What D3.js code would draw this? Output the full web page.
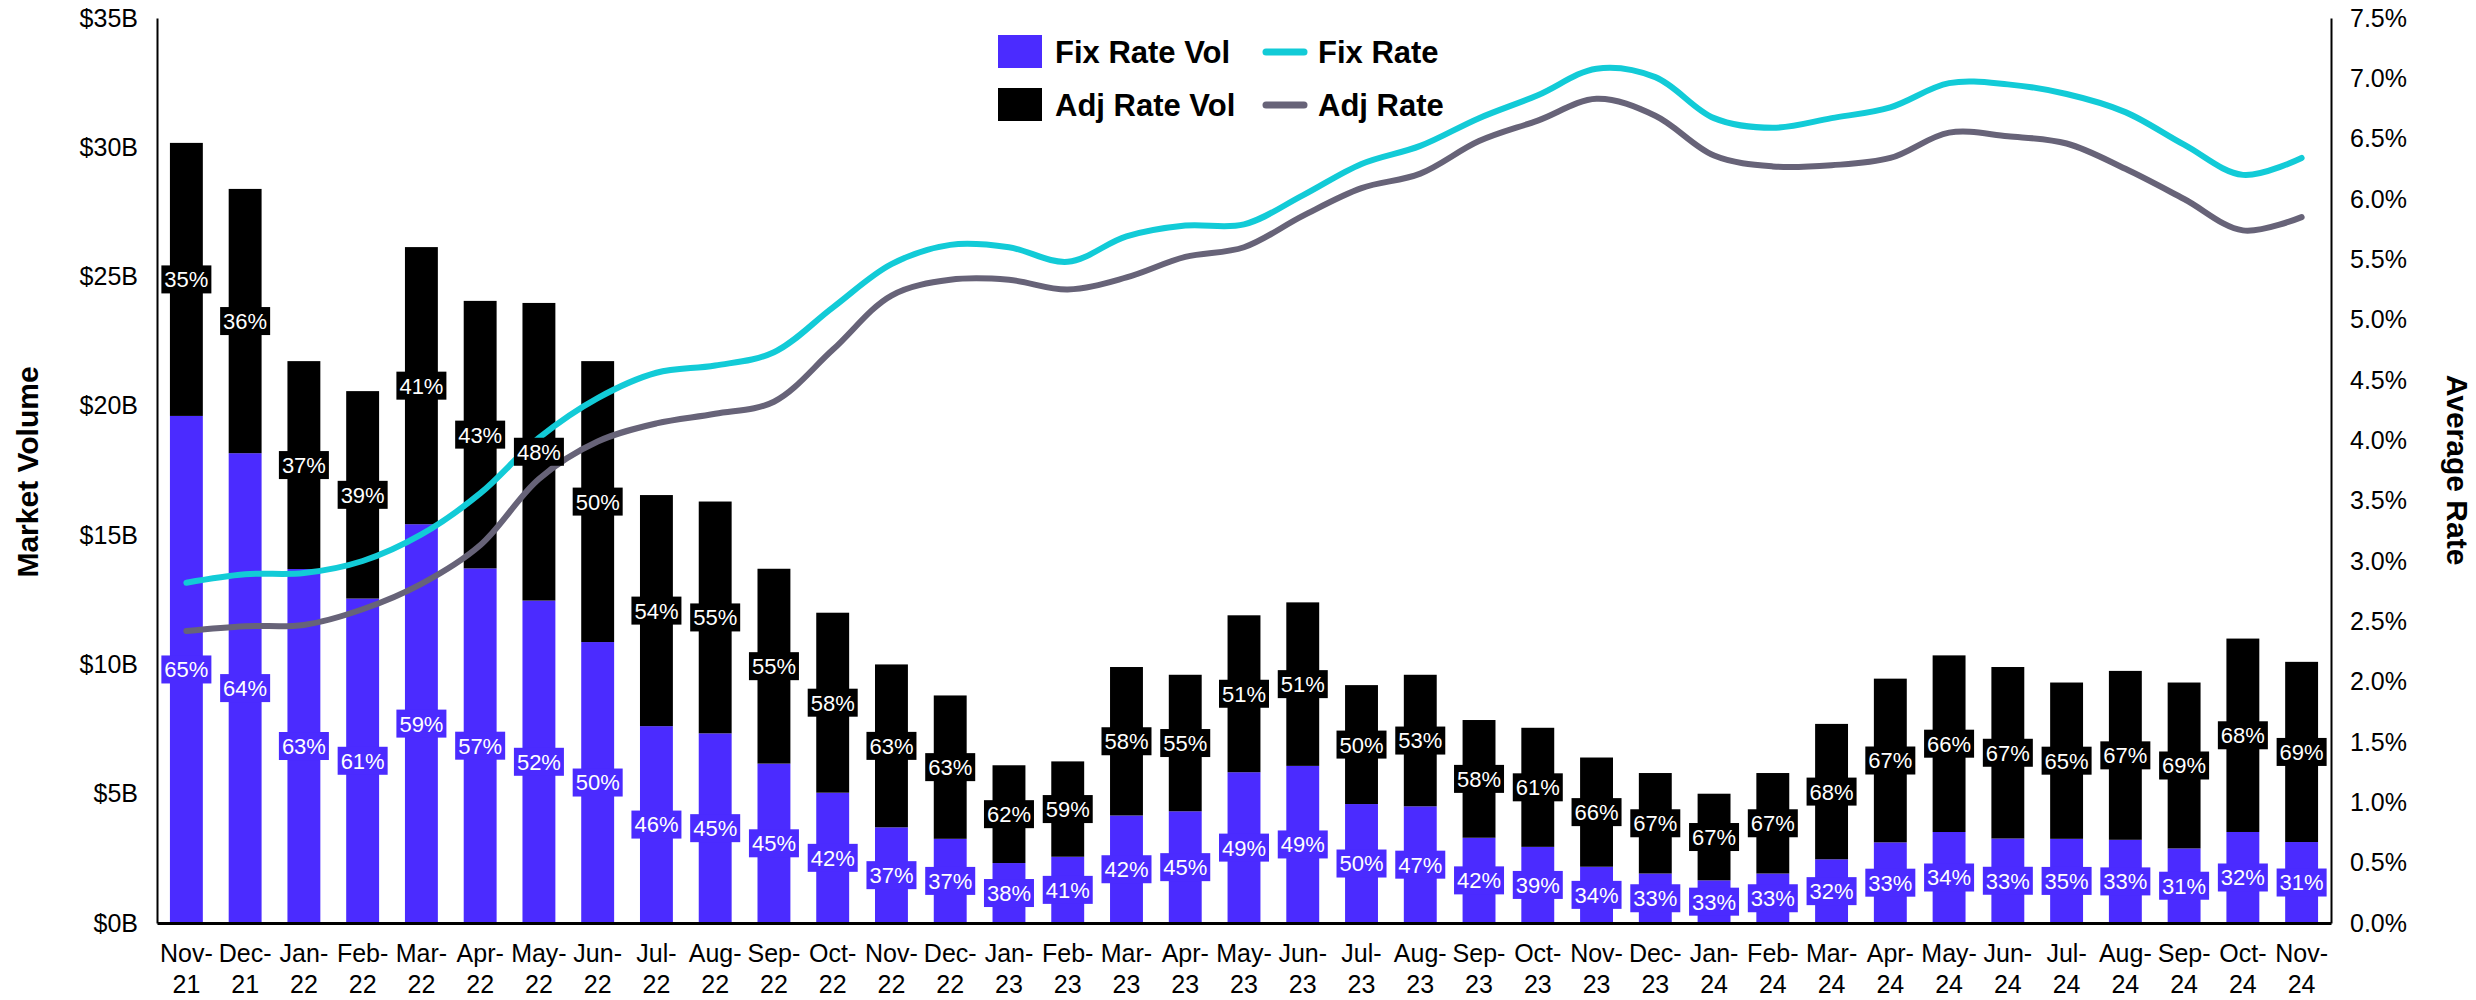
<!DOCTYPE html>
<html>
<head>
<meta charset="utf-8">
<script src="https://cdn.jsdelivr.net/npm/d3@7/dist/d3.min.js"></script>
<style>
  html, body { margin: 0; padding: 0; background: #ffffff; }
  svg { display: block; }
  text { font-family: "Liberation Sans", Arial, Helvetica, sans-serif; }
</style>
</head>
<body>
<svg id="chart" width="2476" height="1000"></svg>
<script>
// Monthly market volume ($B) and fixed-rate share (%), Nov-21 .. Nov-24
const months = ["Nov-21","Dec-21","Jan-22","Feb-22","Mar-22","Apr-22","May-22","Jun-22","Jul-22","Aug-22","Sep-22","Oct-22",
  "Nov-22","Dec-22","Jan-23","Feb-23","Mar-23","Apr-23","May-23","Jun-23","Jul-23","Aug-23","Sep-23","Oct-23",
  "Nov-23","Dec-23","Jan-24","Feb-24","Mar-24","Apr-24","May-24","Jun-24","Jul-24","Aug-24","Sep-24","Oct-24","Nov-24"];

const totalVolume = [30.17, 28.39, 21.73, 20.57, 26.14, 24.06, 23.98, 21.73, 16.55, 16.3, 13.7, 12.0,
  10.0, 8.8, 6.1, 6.25, 9.9, 9.6, 11.9, 12.4, 9.2, 9.6, 7.85, 7.55,
  6.4, 5.8, 5.0, 5.8, 7.7, 9.45, 10.35, 9.9, 9.3, 9.75, 9.3, 11.0, 10.1];

const fixShare = [65, 64, 63, 61, 59, 57, 52, 50, 46, 45, 45, 42,
  37, 37, 38, 41, 42, 45, 49, 49, 50, 47, 42, 39,
  34, 33, 33, 33, 32, 33, 34, 33, 35, 33, 31, 32, 31];

// Average rates (%)
const fixRate = [2.82, 2.89, 2.90, 3.00, 3.22, 3.56, 4.02, 4.35, 4.56, 4.62, 4.73, 5.10,
  5.46, 5.62, 5.60, 5.48, 5.69, 5.78, 5.79, 6.03, 6.29, 6.44, 6.67, 6.86,
  7.08, 7.01, 6.67, 6.59, 6.67, 6.76, 6.96, 6.95, 6.87, 6.72, 6.45, 6.20, 6.34];

const adjRate = [2.42, 2.46, 2.47, 2.60, 2.81, 3.13, 3.68, 3.99, 4.14, 4.22, 4.32, 4.75,
  5.20, 5.33, 5.33, 5.25, 5.35, 5.52, 5.60, 5.86, 6.09, 6.21, 6.48, 6.65,
  6.83, 6.69, 6.36, 6.27, 6.28, 6.34, 6.55, 6.52, 6.46, 6.25, 6.00, 5.74, 5.85];

const volumeTicks = [0, 5, 10, 15, 20, 25, 30, 35];
const rateTicks = [0, 0.5, 1, 1.5, 2, 2.5, 3, 3.5, 4, 4.5, 5, 5.5, 6, 6.5, 7, 7.5];

const COLORS = { fixVol: "#4b2bff", adjVol: "#000000", fixRate: "#12cbd7", adjRate: "#676378" };

const rows = months.map((m, i) => {
  const fix = totalVolume[i] * fixShare[i] / 100;
  return { month: m, total: totalVolume[i], fix: fix, adj: totalVolume[i] - fix,
           fixPct: fixShare[i], adjPct: 100 - fixShare[i], fixRate: fixRate[i], adjRate: adjRate[i] };
});

const svg = d3.select("#chart");
const plot = { left: 157, right: 2331, top: 18, bottom: 923 };

const x = d3.scaleBand().domain(months).range([plot.left, plot.right]).paddingInner(0.44).paddingOuter(0.22);
const yVol = d3.scaleLinear().domain([0, 35]).range([plot.bottom, plot.top]);
const yRate = d3.scaleLinear().domain([0, 7.5]).range([plot.bottom, plot.top]);

// Stacked bars: fixed-rate volume at the bottom, adjustable on top
const stack = d3.stack().keys(["fix", "adj"])(rows);
svg.append("g").selectAll("g").data(stack).join("g")
  .attr("fill", d => d.key === "fix" ? COLORS.fixVol : COLORS.adjVol)
  .selectAll("rect").data(d => d).join("rect")
  .attr("x", d => x(d.data.month))
  .attr("width", x.bandwidth())
  .attr("y", d => yVol(d[1]))
  .attr("height", d => yVol(d[0]) - yVol(d[1]));

// Rate lines
const cx = m => x(m) + x.bandwidth() / 2;
const lineFix = d3.line().x(d => cx(d.month)).y(d => yRate(d.fixRate)).curve(d3.curveCatmullRom.alpha(0.5));
const lineAdj = d3.line().x(d => cx(d.month)).y(d => yRate(d.adjRate)).curve(d3.curveCatmullRom.alpha(0.5));
svg.append("path").datum(rows).attr("d", lineAdj).attr("fill", "none")
  .attr("stroke", COLORS.adjRate).attr("stroke-width", 6).attr("stroke-linecap", "round").attr("stroke-linejoin", "round");
svg.append("path").datum(rows).attr("d", lineFix).attr("fill", "none")
  .attr("stroke", COLORS.fixRate).attr("stroke-width", 6).attr("stroke-linecap", "round").attr("stroke-linejoin", "round");

// Share labels in boxes, centred on each segment
const labelData = [];
stack.forEach(series => series.forEach(d => {
  labelData.push({
    month: d.data.month,
    text: (series.key === "fix" ? d.data.fixPct : d.data.adjPct) + "%",
    y: (yVol(d[0]) + yVol(d[1])) / 2,
    fill: series.key === "fix" ? COLORS.fixVol : COLORS.adjVol
  });
}));
const lbl = svg.append("g").selectAll("g").data(labelData).join("g")
  .attr("transform", d => `translate(${cx(d.month)},${d.y})`);
lbl.append("rect").attr("x", -25).attr("y", -14).attr("width", 50).attr("height", 28).attr("fill", d => d.fill);
lbl.append("text").attr("text-anchor", "middle").attr("dy", "0.36em")
  .attr("font-size", 22).attr("fill", "#ffffff").text(d => d.text);

// Axes
const leftAxis = svg.append("g").attr("transform", `translate(${plot.left},0)`)
  .call(d3.axisLeft(yVol).tickValues(volumeTicks).tickFormat(v => "$" + v + "B").tickSize(0).tickPadding(19));
leftAxis.select(".domain").attr("stroke", "#000").attr("stroke-width", 2);
leftAxis.selectAll("text").attr("font-size", 25).attr("fill", "#000").attr("font-family", "Liberation Sans, Arial, sans-serif");

const rightAxis = svg.append("g").attr("transform", `translate(${plot.right},0)`)
  .call(d3.axisRight(yRate).tickValues(rateTicks).tickFormat(v => v.toFixed(1) + "%").tickSize(0).tickPadding(19));
rightAxis.select(".domain").attr("stroke", "#000").attr("stroke-width", 2);
rightAxis.selectAll("text").attr("font-size", 25).attr("fill", "#000").attr("font-family", "Liberation Sans, Arial, sans-serif");

// Month labels on two lines ("Nov-" / "21")
const bottomAxis = svg.append("g").attr("transform", `translate(0,${plot.bottom})`)
  .call(d3.axisBottom(x).tickSize(0).tickFormat(""));
bottomAxis.select(".domain").attr("stroke", "#000").attr("stroke-width", 3);
bottomAxis.selectAll(".tick text").remove();
bottomAxis.selectAll(".tick").each(function(m) {
  const parts = m.split("-");
  const t = d3.select(this).append("text").attr("text-anchor", "middle").attr("font-size", 25).attr("fill", "#000")
    .attr("font-family", "Liberation Sans, Arial, sans-serif");
  t.append("tspan").attr("x", 0).attr("y", 39).text(parts[0] + "-");
  t.append("tspan").attr("x", 0).attr("y", 70).text(parts[1]);
});

// Axis titles
svg.append("text").attr("transform", "translate(38,472) rotate(-90)").attr("text-anchor", "middle")
  .attr("font-size", 30).attr("font-weight", "bold").attr("fill", "#000").text("Market Volume");
svg.append("text").attr("transform", "translate(2447,470) rotate(90)").attr("text-anchor", "middle")
  .attr("font-size", 30).attr("font-weight", "bold").attr("fill", "#000").text("Average Rate");

// Legend
const legendItems = [
  { label: "Fix Rate Vol", type: "box", color: COLORS.fixVol, x: 998, y: 52 },
  { label: "Adj Rate Vol", type: "box", color: COLORS.adjVol, x: 998, y: 105 },
  { label: "Fix Rate", type: "line", color: COLORS.fixRate, x: 1263, y: 52 },
  { label: "Adj Rate", type: "line", color: COLORS.adjRate, x: 1263, y: 105 }
];
const leg = svg.append("g").selectAll("g").data(legendItems).join("g")
  .attr("transform", d => `translate(${d.x},${d.y})`);
leg.filter(d => d.type === "box").append("rect").attr("x", 0).attr("y", -17).attr("width", 44).attr("height", 33)
  .attr("fill", d => d.color);
leg.filter(d => d.type === "line").append("line").attr("x1", 3).attr("x2", 41).attr("y1", 0).attr("y2", 0)
  .attr("stroke", d => d.color).attr("stroke-width", 7).attr("stroke-linecap", "round");
leg.append("text").attr("x", d => d.type === "box" ? 57 : 55).attr("dy", "0.36em")
  .attr("font-size", 31).attr("font-weight", "bold").attr("fill", "#000").text(d => d.label);
</script>
</body>
</html>
